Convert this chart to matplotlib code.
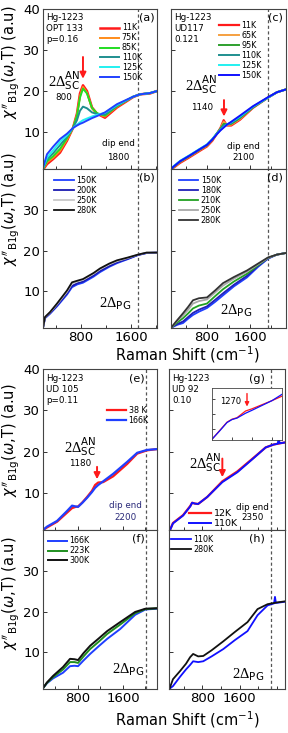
import matplotlib
matplotlib.use("Agg")
import matplotlib.pyplot as plt
from matplotlib.ticker import FixedLocator, MultipleLocator

# ---- panel (a): OPT 133, superconducting state
a_x = [190, 254, 350, 462, 574, 670, 734, 782, 830, 894, 974, 1054, 1182, 1374, 1630, 1742, 1900, 2015]
a_11K = [0.8, 2.2, 3.4, 5.0, 7.9, 11.0, 14.5, 19.4, 21.4, 20.0, 16.0, 14.5, 13.5, 16.0, 18.5, 19.2, 19.4, 20.0]
a_75K = [0.9, 2.6, 3.7, 5.4, 8.2, 11.0, 14.2, 18.8, 21.0, 19.6, 15.8, 14.4, 13.8, 16.2, 18.6, 19.2, 19.5, 20.0]
a_85K = [1.0, 2.9, 4.1, 5.9, 8.5, 11.0, 14.0, 18.4, 20.6, 19.4, 15.9, 14.6, 14.0, 16.3, 18.6, 19.2, 19.5, 20.0]
a_110K = [1.1, 3.4, 4.8, 6.8, 8.9, 11.0, 12.9, 15.2, 16.2, 15.8, 14.8, 14.4, 14.3, 16.4, 18.6, 19.2, 19.5, 20.0]
a_125K = [1.2, 3.8, 5.5, 7.6, 9.2, 11.0, 11.8, 12.4, 12.9, 13.3, 13.8, 14.2, 14.7, 16.6, 18.6, 19.2, 19.5, 20.0]
a_150K = [1.3, 4.6, 6.4, 8.3, 9.6, 11.0, 11.6, 12.0, 12.3, 12.8, 13.4, 13.9, 14.8, 16.8, 18.6, 19.2, 19.5, 20.0]

# ---- panel (b): OPT 133, normal state
b_x = [190, 222, 302, 414, 574, 654, 740, 830, 1000, 1102, 1250, 1374, 1550, 1710, 1850, 2015]
b_150K = [1.0, 3.4, 4.5, 6.3, 9.2, 11.0, 11.7, 12.1, 13.6, 14.7, 16.0, 16.9, 17.9, 18.9, 19.4, 19.5]
b_200K = [1.0, 3.5, 4.6, 6.5, 9.5, 11.3, 12.0, 12.4, 13.9, 15.0, 16.2, 17.1, 18.0, 18.9, 19.4, 19.5]
b_250K = [1.0, 3.6, 4.8, 6.8, 9.9, 11.9, 12.4, 12.8, 14.3, 15.4, 16.6, 17.4, 18.2, 19.0, 19.5, 19.5]
b_280K = [1.0, 3.7, 4.9, 7.0, 10.2, 12.2, 12.6, 13.0, 14.5, 15.6, 16.8, 17.6, 18.3, 19.0, 19.5, 19.5]

# ---- panel (c): UD117
c_x = [130, 170, 300, 480, 650, 800, 900, 985, 1050, 1110, 1170, 1250, 1413, 1655, 1935, 2100, 2270]
c_11K = [0.8, 1.2, 2.5, 3.9, 5.3, 6.5, 7.9, 9.6, 11.0, 12.9, 11.6, 11.6, 13.0, 15.9, 18.4, 19.7, 20.4]
c_65K = [0.8, 1.3, 2.7, 4.1, 5.5, 6.7, 8.1, 9.6, 10.9, 12.5, 11.8, 11.8, 13.2, 16.0, 18.4, 19.7, 20.4]
c_95K = [0.8, 1.4, 2.8, 4.2, 5.6, 6.8, 8.2, 9.7, 10.8, 12.0, 11.9, 12.0, 13.4, 16.0, 18.4, 19.7, 20.4]
c_110K = [0.8, 1.5, 2.9, 4.3, 5.7, 6.9, 8.3, 9.7, 10.7, 11.6, 11.9, 12.2, 13.6, 16.1, 18.4, 19.7, 20.4]
c_125K = [0.9, 1.6, 3.0, 4.4, 5.8, 7.0, 8.3, 9.6, 10.5, 11.2, 11.8, 12.4, 13.8, 16.2, 18.4, 19.7, 20.4]
c_150K = [0.9, 1.5, 2.9, 4.3, 5.7, 6.9, 8.2, 9.5, 10.4, 11.1, 11.8, 12.5, 14.0, 16.3, 18.5, 19.7, 20.4]

# ---- panel (d): UD117 normal state
d_x = [130, 170, 250, 353, 450, 539, 650, 800, 950, 1097, 1300, 1543, 1750, 1935, 2100, 2270]
d_150K = [1.0, 1.3, 1.8, 2.2, 3.3, 4.2, 5.0, 5.9, 7.4, 9.0, 11.2, 13.4, 16.0, 18.0, 19.0, 19.4]
d_180K = [1.0, 1.4, 2.0, 2.6, 3.7, 4.7, 5.5, 6.3, 7.9, 9.5, 11.6, 13.8, 16.2, 18.1, 19.0, 19.4]
d_210K = [1.0, 1.5, 2.4, 3.4, 4.6, 5.8, 6.5, 7.0, 8.8, 10.5, 12.4, 14.3, 16.4, 18.2, 19.0, 19.4]
d_250K = [1.0, 1.6, 2.8, 4.1, 5.5, 7.0, 7.6, 8.0, 9.7, 11.4, 13.1, 14.8, 16.6, 18.2, 19.0, 19.4]
d_280K = [1.0, 1.7, 3.0, 4.6, 6.2, 7.8, 8.3, 8.5, 10.2, 12.0, 13.5, 15.1, 16.8, 18.3, 19.0, 19.4]

# ---- panel (e): UD 105
e_x = [180, 250, 430, 607, 696, 760, 803, 880, 963, 1050, 1105, 1160, 1250, 1426, 1675, 1853, 2030, 2205]
e_38K = [1.0, 1.6, 3.0, 5.2, 6.3, 6.6, 6.7, 7.7, 9.0, 10.5, 11.9, 12.5, 12.6, 14.0, 17.0, 19.5, 20.3, 20.6]
e_166K = [1.0, 1.8, 3.2, 5.6, 6.9, 6.7, 6.6, 7.6, 8.8, 10.2, 11.2, 11.9, 12.8, 14.6, 17.5, 19.7, 20.4, 20.6]

# ---- panel (f): UD 105 normal state
f_x = [180, 250, 358, 536, 660, 740, 803, 900, 1017, 1170, 1320, 1550, 1817, 2000, 2205]
f_166K = [1.2, 2.4, 3.6, 5.0, 6.6, 6.7, 6.6, 8.0, 9.6, 11.5, 13.3, 15.7, 19.2, 20.5, 20.7]
f_223K = [1.2, 2.5, 3.9, 5.8, 7.6, 7.6, 7.4, 9.0, 10.8, 12.6, 14.5, 16.8, 19.6, 20.6, 20.8]
f_300K = [1.2, 2.6, 4.2, 6.4, 8.4, 8.3, 8.1, 9.8, 11.6, 13.4, 15.2, 17.4, 19.9, 20.7, 20.8]

# ---- panel (g): UD 92
g_x = [85, 107, 170, 387, 540, 582, 640, 710, 906, 1230, 1553, 1900, 2160, 2330, 2420, 2440, 2460, 2575]
g_12K = [0.5, 1.0, 2.7, 4.6, 6.8, 7.6, 7.4, 7.3, 9.0, 12.8, 15.2, 18.5, 21.0, 21.7, 21.9, 21.9, 22.0, 22.2]
g_110K = [0.5, 1.0, 2.6, 4.5, 6.7, 7.6, 7.4, 7.3, 9.0, 12.6, 15.0, 18.4, 21.0, 21.7, 21.9, 23.2, 22.0, 22.2]
gi_x = [600, 750, 900, 1000, 1100, 1270, 1400, 1600, 1800, 2000]
gi_12K = [7.2, 9.5, 11.8, 12.6, 13.0, 14.8, 15.4, 16.5, 17.6, 18.8]
gi_110K = [7.2, 9.4, 11.7, 12.5, 12.9, 14.2, 15.0, 16.3, 17.6, 19.3]

# ---- panel (h): UD 92 normal state
h_x = [85, 110, 170, 322, 450, 538, 603, 711, 820, 1000, 1251, 1500, 1770, 1986, 2200, 2340, 2360, 2380, 2575]
h_110K = [0.8, 1.2, 1.7, 4.0, 5.8, 6.9, 7.8, 7.6, 7.8, 9.0, 10.8, 13.0, 15.2, 19.1, 21.5, 22.0, 23.6, 22.1, 22.4]
h_280K = [0.8, 1.5, 3.4, 5.4, 7.2, 8.8, 9.6, 9.0, 9.1, 10.5, 12.7, 15.0, 17.4, 20.6, 21.8, 22.1, 22.1, 22.2, 22.5]

RED = "#ff1a1a"
W, H = 288, 733

# serif "2Δ" with sans sub/superscripts
plt.rcParams["mathtext.rm"] = "Liberation Serif"
plt.rcParams["mathtext.it"] = "Liberation Serif:italic"
plt.rcParams["mathtext.sf"] = "DejaVu Sans"


def box(l, t, r, b):
    return [l / W, 1 - b / H, (r - l) / W, (b - t) / H]


def style(ax, xlim, dash, left, bottom, yticks):
    ax.set_xlim(*xlim)
    ax.set_ylim(1, 40)
    ax.xaxis.set_major_locator(FixedLocator([800, 1600]))
    ax.xaxis.set_minor_locator(MultipleLocator(400))
    ax.set_yticks(yticks)
    ax.tick_params(which="both", direction="in", labelsize=9.5, length=3,
                   width=0.7, color="#333333", pad=2)
    ax.tick_params(which="minor", length=2)
    ax.tick_params(labelleft=left, labelbottom=bottom)
    for s in ax.spines.values():
        s.set_color("#444444")
        s.set_linewidth(0.8)
    ax.axvline(dash, color="#555555", lw=0.9, ls=(0, (2.5, 2)))


def curves(ax, x, ys, lws=None):
    for i, (y, col, lab) in enumerate(ys):
        lw = 1.6 if lws is None else lws[i]
        ax.plot(x, y, color=col, lw=lw, label=lab)


def leg(ax, anchor, loc="upper left", fs=5.8):
    ax.legend(loc=loc, bbox_to_anchor=anchor, frameon=False, fontsize=fs,
              handlelength=2.4, handletextpad=0.3, labelspacing=0.12,
              borderpad=0, borderaxespad=0)


def note(ax, x, y, s, **kw):
    kw.setdefault("fontsize", 6.3)
    ax.text(x, y, s, transform=ax.transAxes, **kw)


def sc(ax, x, y):
    ax.text(x, y, r"$2\Delta_{\mathsf{SC}}^{\mathsf{AN}}$", transform=ax.transAxes,
            ha="center", va="center", fontsize=10.5, math_fontfamily="custom")


def pg(ax, x, y):
    ax.text(x, y, r"$2\Delta_{\mathsf{PG}}$", transform=ax.transAxes,
            ha="center", va="center", fontsize=10.5, math_fontfamily="custom")


def arrow(ax, x, y0, y1, lw=1.4, ms=9):
    ax.annotate("", xy=(x, y1), xytext=(x, y0),
                arrowprops=dict(arrowstyle="-|>", color=RED, lw=lw,
                                mutation_scale=ms, shrinkA=0, shrinkB=0))


fig = plt.figure(figsize=(2.88, 7.33), dpi=100)

ax_a = fig.add_axes(box(43, 9, 157, 169))
ax_b = fig.add_axes(box(43, 169, 157, 328))
ax_c = fig.add_axes(box(171, 9, 286, 169))
ax_d = fig.add_axes(box(171, 169, 286, 328))
ax_e = fig.add_axes(box(43, 369, 157, 530))
ax_f = fig.add_axes(box(43, 530, 157, 689))
ax_g = fig.add_axes(box(169, 369, 285, 530))
ax_h = fig.add_axes(box(169, 530, 285, 689))

# (a)
style(ax_a, (190, 2015), 1710, True, False, [10, 20, 30, 40])
curves(ax_a, a_x, [(a_11K, RED, "11K"), (a_75K, "#ff8c1a", "75K"), (a_85K, "#22dd22", "85K"),
                   (a_110K, "#1f8f8f", "110K"), (a_125K, "#22f0f0", "125K"), (a_150K, "#2040ff", "150K")],
       lws=[1.8, 1.4, 1.4, 1.4, 1.4, 1.4])
leg(ax_a, (0.5, 0.91))
note(ax_a, 0.03, 0.975, "Hg-1223\nOPT 133\np=0.16", va="top", linespacing=1.3)
note(ax_a, 0.98, 0.975, "(a)", va="top", ha="right", fontsize=8)
sc(ax_a, 0.19, 0.55)
note(ax_a, 0.18, 0.45, "800", ha="center", va="center")
arrow(ax_a, 830, 28.3, 23.0)
note(ax_a, 0.66, 0.16, "dip end", ha="center", va="center")
note(ax_a, 0.66, 0.075, "1800", ha="center", va="center")

# (b)
style(ax_b, (190, 2015), 1710, True, True, [10, 20, 30])
curves(ax_b, b_x, [(b_150K, "#1f3fff", "150K"), (b_200K, "#1a1ab0", "200K"),
                   (b_250K, "#c8c8c8", "250K"), (b_280K, "#111111", "280K")], lws=[1.3] * 4)
leg(ax_b, (0.1, 0.955))
note(ax_b, 0.98, 0.975, "(b)", va="top", ha="right", fontsize=8)
pg(ax_b, 0.63, 0.15)

# (c)
style(ax_c, (130, 2270), 1935, False, False, [10, 20, 30])
curves(ax_c, c_x, [(c_11K, RED, "11K"), (c_65K, "#f5a040", "65K"), (c_95K, "#2ea02e", "95K"),
                   (c_110K, "#1f8f8f", "110K"), (c_125K, "#22f0f0", "125K"), (c_150K, "#1010ff", "150K")],
       lws=[1.6, 1.4, 1.4, 1.4, 1.4, 1.4])
leg(ax_c, (0.42, 0.925))
note(ax_c, 0.03, 0.975, "Hg-1223\nUD117\n0.121", va="top", linespacing=1.3)
note(ax_c, 0.975, 0.975, "(c)", va="top", ha="right", fontsize=8)
sc(ax_c, 0.26, 0.53)
note(ax_c, 0.27, 0.385, "1140", ha="center", va="center")
arrow(ax_c, 1116, 17.8, 13.8)
note(ax_c, 0.63, 0.14, "dip end", ha="center", va="center")
note(ax_c, 0.63, 0.07, "2100", ha="center", va="center")

# (d)
style(ax_d, (130, 2270), 1935, False, True, [10, 20, 30])
curves(ax_d, d_x, [(d_150K, "#1f3fff", "150K"), (d_180K, "#2020b8", "180K"), (d_210K, "#22a022", "210K"),
                   (d_250K, "#a8a8a8", "250K"), (d_280K, "#333333", "280K")], lws=[1.3] * 5)
leg(ax_d, (0.07, 0.955))
note(ax_d, 0.975, 0.975, "(d)", va="top", ha="right", fontsize=8)
pg(ax_d, 0.57, 0.11)

# (e)
style(ax_e, (180, 2205), 2013, True, False, [10, 20, 30, 40])
curves(ax_e, e_x, [(e_38K, RED, "38 K"), (e_166K, "#1f3fff", "166K")])
leg(ax_e, (0.56, 0.77))
note(ax_e, 0.03, 0.97, "Hg-1223\nUD 105\np=0.11", va="top", linespacing=1.3)
note(ax_e, 0.89, 0.97, "(e)", va="top", ha="right", fontsize=8)
sc(ax_e, 0.33, 0.52)
note(ax_e, 0.33, 0.415, "1180", ha="center", va="center")
arrow(ax_e, 1140, 16.3, 13.3)
note(ax_e, 0.72, 0.15, "dip end", ha="center", va="center", color="#2b2b7a")
note(ax_e, 0.72, 0.08, "2200", ha="center", va="center", color="#2b2b7a")

# (f)
style(ax_f, (180, 2205), 2013, True, True, [10, 20, 30])
curves(ax_f, f_x, [(f_166K, "#1f3fff", "166K"), (f_223K, "#1f8f1f", "223K"), (f_300K, "#111111", "300K")],
       lws=[1.4] * 3)
leg(ax_f, (0.04, 0.96))
note(ax_f, 0.89, 0.975, "(f)", va="top", ha="right", fontsize=8)
pg(ax_f, 0.75, 0.12)

# (g)
style(ax_g, (85, 2575), 2267, False, False, [10, 20, 30])
curves(ax_g, g_x, [(g_12K, RED, "12K"), (g_110K, "#1010ff", "110K")], lws=[1.6, 1.4])
leg(ax_g, (0.17, 0.13), fs=6.8)
note(ax_g, 0.03, 0.97, "Hg-1223\nUD 92\n0.10", va="top", linespacing=1.3)
note(ax_g, 0.83, 0.97, "(g)", va="top", ha="right", fontsize=8)
sc(ax_g, 0.31, 0.42)
arrow(ax_g, 1230, 18.3, 13.8)
note(ax_g, 0.72, 0.14, "dip end", ha="center", va="center")
note(ax_g, 0.72, 0.08, "2350", ha="center", va="center")

ax_i = fig.add_axes(box(212, 388, 282, 440))
ax_i.plot(gi_x, gi_12K, color=RED, lw=0.9)
ax_i.plot(gi_x, gi_110K, color="#1010ff", lw=0.9)
ax_i.set_xlim(600, 2000)
ax_i.set_ylim(7, 21)
ax_i.set_xticks([1000, 1400, 1800])
ax_i.set_yticks([10, 14, 18])
ax_i.tick_params(direction="in", length=2, width=0.5, labelleft=False, labelbottom=False)
for s in ax_i.spines.values():
    s.set_color("#444444")
    s.set_linewidth(0.6)
ax_i.text(0.27, 0.75, "1270", transform=ax_i.transAxes, fontsize=6, ha="center", va="center")
arrow(ax_i, 1300, 19.5, 16.0, lw=1.0, ms=6)

# (h)
style(ax_h, (85, 2575), 2267, False, True, [10, 20, 30])
curves(ax_h, h_x, [(h_110K, "#1010ff", "110K"), (h_280K, "#111111", "280K")], lws=[1.3, 1.3])
leg(ax_h, (0.02, 0.97))
note(ax_h, 0.83, 0.975, "(h)", va="top", ha="right", fontsize=8)
pg(ax_h, 0.68, 0.09)

# axis labels
ylab = r"$\chi''_{\rm B1g}$($\omega$,T) (a.u)"
for yc in (62, 209, 440, 593):
    fig.text(11 / W, 1 - yc / H, ylab, rotation=90, ha="center", va="center", fontsize=10.5)
for yc in (355, 720):
    fig.text(187 / W, 1 - yc / H, r"Raman Shift (cm$^{-1}$)", ha="center", va="center", fontsize=10.5)

fig.savefig("out.png", dpi=100)
